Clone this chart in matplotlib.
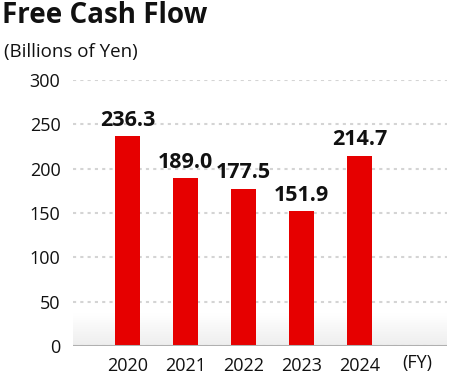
import matplotlib

matplotlib.use("Agg")
import matplotlib.pyplot as plt
import numpy as np

YEARS = ["2020", "2021", "2022", "2023", "2024"]
FCF = [236.3, 189.0, 177.5, 151.9, 214.7]
YTICKS = [0, 50, 100, 150, 200, 250, 300]

plt.rcParams["font.family"] = ["Open Sans", "DejaVu Sans"]

fig = plt.figure(figsize=(4.5, 3.75), dpi=100)
ax = fig.add_axes([0.162, 0.077, 0.831, 0.71])

x = np.arange(len(YEARS))
ax.set_xlim(-0.94, 5.51)
ax.set_ylim(0, 300)

# soft shadow band above the baseline
grad = np.linspace(0.93, 1.0, 64).reshape(-1, 1)
ax.imshow(grad, cmap="gray", vmin=0, vmax=1, aspect="auto", origin="lower",
          extent=[-0.94, 5.51, 0, 37], zorder=0, interpolation="bicubic")

ax.set_yticks(YTICKS)
ax.yaxis.grid(True, color="#d4d4d4", linestyle=(0, (1.5, 2)), linewidth=1.5)
ax.set_axisbelow(True)

ax.bar(x, FCF, width=0.43, color="#e60000", zorder=2)
for xi, v in zip(x, FCF):
    ax.text(xi, v + 6, f"{v:.1f}", ha="center", va="bottom",
            fontsize=15.5, fontweight="bold", color="#111111", zorder=3)

ax.axhline(0, color="#b0b0b0", linewidth=2.2, zorder=3)

for s in ax.spines.values():
    s.set_visible(False)
ax.tick_params(axis="both", length=0, labelsize=13, colors="#111111")
ax.tick_params(axis="y", pad=9)
ax.tick_params(axis="x", pad=8)
ax.set_xticks(x)
ax.set_xticklabels(YEARS)

ax.text(5.0, -9, "(FY)", ha="center", va="top", fontsize=13,
        color="#111111", transform=ax.transData)

fig.text(0.004, 0.998, "Free Cash Flow", ha="left", va="top",
         fontsize=20, fontweight="bold", color="#111111")
fig.text(0.01, 0.861, "(Billions of Yen)", ha="left", va="center",
         fontsize=13.5, color="#111111")

fig.savefig("out.png", dpi=100)
